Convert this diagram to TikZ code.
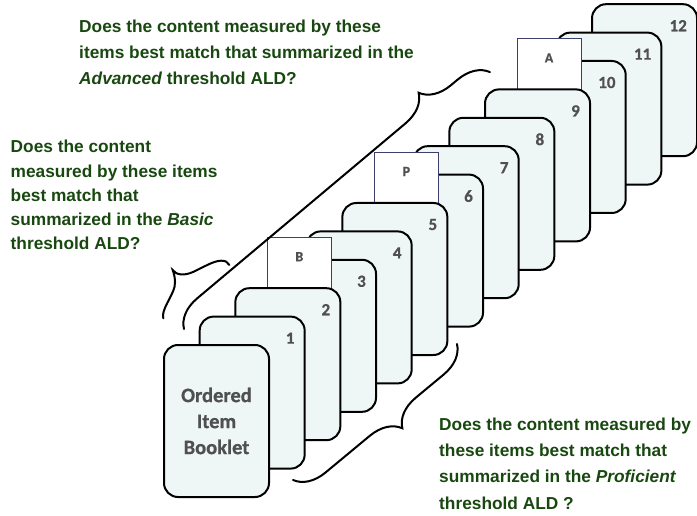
\documentclass[tikz,border=0pt]{standalone}
\usepackage{fontspec}
\setmainfont{Liberation Sans}
\newfontfamily\cardfont[BoldFeatures={FakeBold=0.8}]{Carlito}
\usetikzlibrary{decorations.pathreplacing}

\definecolor{cardfill}{RGB}{239,247,246}
\definecolor{qgreen}{RGB}{24,72,16}
\definecolor{numgray}{RGB}{80,80,80}
\definecolor{tabline}{RGB}{62,62,110}

\tikzset{
  card/.style={draw=black, line width=2pt, fill=cardfill, rounded corners=14pt,
    minimum width=105pt, minimum height=152pt, inner sep=0pt, anchor=north west},
  numlabel/.style={font=\cardfont\bfseries\fontsize{17}{20}\selectfont, text=numgray,
    inner sep=0pt, anchor=east},
  ldtab/.style={draw=tabline, line width=1pt, fill=white, minimum width=64pt,
    minimum height=52pt, inner sep=0pt, anchor=north west},
  tabtext/.style={font=\cardfont\bfseries\fontsize{14}{16}\selectfont, text=numgray,
    inner sep=0pt},
  question/.style={font=\bfseries\fontsize{17.3}{25.8}\selectfont, text=qgreen,
    align=left, inner sep=0pt, anchor=north west},
  bracepath/.style={draw=black, line width=2pt, line cap=round},
}

% one item page of the booklet, numbered in its upper right corner
\newcommand\itemcard[1]{%
  \pgfmathsetmacro\cardx{163+35.67*#1}%
  \pgfmathsetmacro\cardy{344-28.4*#1}%
  \node[card] (c#1) at (\cardx,\cardy) {};
  \node[numlabel] (n#1) at ([xshift=-11pt,yshift=-22.5pt]c#1.north east) {#1};
}
% bookmark tab sticking out above an item page
\newcommand\ldtabmark[2]{%
  \pgfmathsetmacro\cardx{163+35.67*#1+32.5}%
  \pgfmathsetmacro\cardy{344-28.4*#1-50}%
  \node[ldtab] (t#1) at (\cardx,\cardy) {};
  \node[tabtext] (l#1) at ([yshift=-19.5pt]t#1.north) {#2};
}

\begin{document}
\begin{tikzpicture}[x=1pt,y=-1pt]
\useasboundingbox (0,0) rectangle (697,516);

% pages, back to front
\foreach \i in {12,11,10} {\itemcard{\i}}
\ldtabmark{9}{A}
\foreach \i in {9,8,7,6} {\itemcard{\i}}
\ldtabmark{5}{P}
\foreach \i in {5,4,3} {\itemcard{\i}}
\ldtabmark{2}{B}
\foreach \i in {2,1} {\itemcard{\i}}
\node[card, align=center, text=numgray,
  font=\cardfont\bfseries\fontsize{20.5}{26}\selectfont] (c0) at (163,344)
  {Ordered\\Item\\Booklet};

% braces grouping the pages
\coordinate (advA) at (184,329);
\coordinate (advB) at (490,72);
\draw[bracepath, decorate, decoration={brace, amplitude=30pt, aspect=0.83}]
  (advA) -- (advB);

\coordinate (proA) at (457,344);
\coordinate (proB) at (293,480);
\draw[bracepath, decorate, decoration={brace, amplitude=30pt, aspect=0.45}]
  (proA) -- (proB);

\coordinate (basA) at (163.3,318.3);
\coordinate (basB) at (229.3,265);
\draw[bracepath] (basA) .. controls (161,310) and (172,297) .. (174.5,287)
  .. controls (176,280) and (174,274) .. (172.7,270)
  .. controls (176,275) and (184,276) .. (193,272)
  .. controls (204,267) and (213,261) .. (221,260.7)
  .. controls (225,260.5) and (228,262) .. (basB);

% questions
\node[question] (qadv) at (79,20)
  {Does the content measured by these\\
   items best match that summarized in the\\
   \textit{Advanced} threshold ALD?};
\node[question, font=\bfseries\fontsize{17.3}{24.3}\selectfont] (qbas) at (10.5,140)
  {Does the content\\
   measured by these items\\
   best match that\\
   summarized in the \textit{Basic}\\
   threshold ALD?};
\node[question, font=\bfseries\fontsize{17.3}{26.1}\selectfont] (qpro) at (439,418)
  {Does the content measured by\\
   these items best match that\\
   summarized in the \textit{Proficient}\\
   threshold ALD ?};
\end{tikzpicture}
\end{document}
